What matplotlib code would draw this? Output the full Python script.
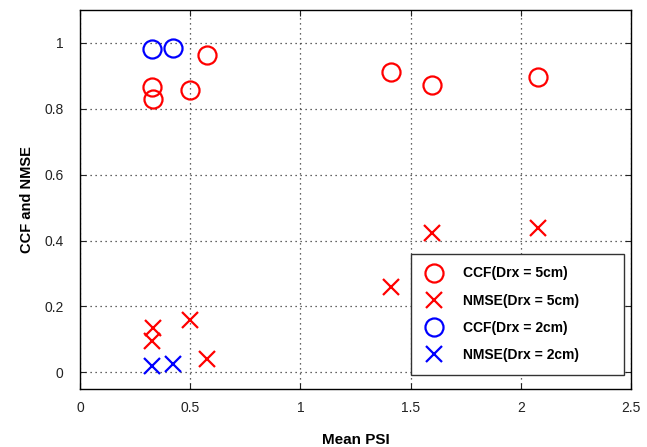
import matplotlib
matplotlib.use("Agg")
import matplotlib.pyplot as plt

plt.rcParams['font.family'] = ['Liberation Sans', 'DejaVu Sans']

# Drx = 5cm
psi_5 = [0.327, 0.33, 0.577, 0.50, 1.41, 1.595, 2.08]
ccf_5 = [0.867, 0.83, 0.964, 0.858, 0.912, 0.873, 0.897]
psi_5n = [0.33, 0.327, 0.50, 0.577, 1.41, 1.595, 2.08]
nmse_5 = [0.136, 0.094, 0.16, 0.042, 0.258, 0.424, 0.439]
# Drx = 2cm
psi_2 = [0.327, 0.423]
ccf_2 = [0.982, 0.985]
nmse_2 = [0.018, 0.027]

xticks = [0, 0.5, 1, 1.5, 2, 2.5]
xtick_labels = ['0', '0.5', '1', '1.5', '2', '2.5']
yticks = [0, 0.2, 0.4, 0.6, 0.8, 1]
ytick_labels = ['0', '0.2', '0.4', '0.6', '0.8', '1']

fig = plt.figure(figsize=(6.47, 4.47), dpi=100)
ax = fig.add_axes([0.124, 0.130, 0.851, 0.848])

ms_o = 13
ms_x = 11
lw = 1.6
ax.plot(psi_5, ccf_5, 'o', mfc='none', mec='red', ms=ms_o, mew=lw, label='CCF(Drx = 5cm)')
ax.plot(psi_5n, nmse_5, 'x', color='red', ms=ms_x, mew=lw, label='NMSE(Drx = 5cm)')
ax.plot(psi_2, ccf_2, 'o', mfc='none', mec='blue', ms=ms_o, mew=lw, label='CCF(Drx = 2cm)')
ax.plot(psi_2, nmse_2, 'x', color='blue', ms=ms_x, mew=lw, label='NMSE(Drx = 2cm)')

ax.set_xlim(0, 2.5)
ax.set_ylim(-0.05, 1.1)
ax.set_xticks(xticks)
ax.set_xticklabels(xtick_labels)
ax.set_yticks(yticks)
ax.set_yticklabels(ytick_labels)
ax.tick_params(direction='in', length=4, labelsize=10, colors='#222222',
               top=True, right=True)
ax.tick_params(axis='x', pad=9)
ax.tick_params(axis='y', pad=12)
ax.grid(True, linestyle=(0, (1, 3)), color='#333333', linewidth=0.9)
for s in ax.spines.values():
    s.set_linewidth(1.0)

ax.set_xlabel('Mean PSI', fontsize=11, fontweight='bold', labelpad=13)
ax.set_ylabel('CCF and NMSE', fontsize=10.5, fontweight='bold', labelpad=7)

leg = ax.legend(loc='upper left', bbox_to_anchor=(0.601, 0.04, 0.386, 0.316), mode='expand',
                prop={'weight': 'bold', 'size': 10}, fancybox=False, edgecolor='#333333',
                framealpha=1, labelspacing=0.95, borderpad=0.9, handlelength=1.5,
                handletextpad=1.3, markerscale=1.0, borderaxespad=0)
leg.get_frame().set_linewidth(1.0)

fig.savefig('out.png', dpi=100)
